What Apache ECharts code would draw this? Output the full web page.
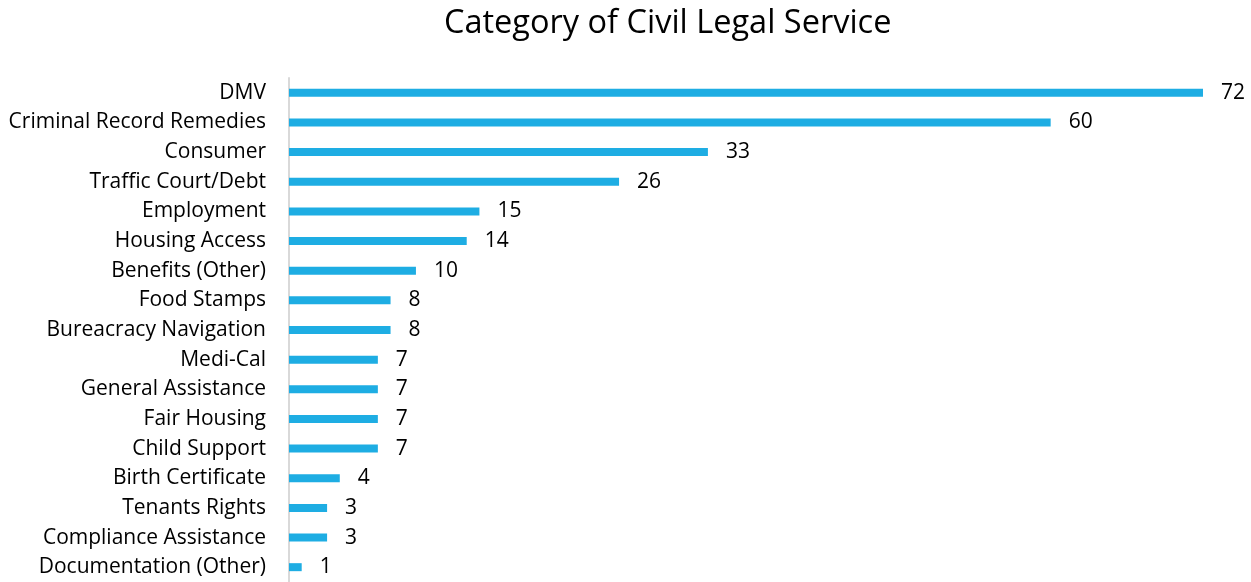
<!DOCTYPE html>
<html>
<head>
<meta charset="utf-8">
<script src="https://cdn.jsdelivr.net/npm/echarts@6/dist/echarts.min.js"></script>
<style>
  html, body { margin: 0; padding: 0; background: #fff; }
  #chart { width: 1251px; height: 582px; }
</style>
</head>
<body>
<div id="chart"></div>
<script>
// Categories listed top to bottom
const categories = [
  'DMV', 'Criminal Record Remedies', 'Consumer', 'Traffic Court/Debt',
  'Employment', 'Housing Access', 'Benefits (Other)', 'Food Stamps',
  'Bureacracy Navigation', 'Medi-Cal', 'General Assistance', 'Fair Housing',
  'Child Support', 'Birth Certificate', 'Tenants Rights',
  'Compliance Assistance', 'Documentation (Other)'
];
const counts = [72, 60, 33, 26, 15, 14, 10, 8, 8, 7, 7, 7, 7, 4, 3, 3, 1];

const font = '"Open Sans", "Noto Sans", sans-serif';
const chart = echarts.init(document.getElementById('chart'));
chart.setOption({
  animation: false,
  title: {
    text: 'Category of Civil Legal Service',
    left: 439,
    top: 2,
    textStyle: { fontFamily: font, fontSize: 32.5, fontWeight: 'normal', color: '#000' }
  },
  grid: { left: 289, right: 48, top: 78, bottom: -2 },
  xAxis: {
    type: 'value',
    min: 0,
    max: 72,
    show: false
  },
  yAxis: {
    type: 'category',
    inverse: true,
    data: categories,
    axisLine: { show: true, lineStyle: { color: '#d9d9d9', width: 2 } },
    axisTick: { show: false },
    axisLabel: {
      margin: 23,
      fontFamily: font,
      fontSize: 21,
      color: '#000'
    }
  },
  series: [{
    type: 'bar',
    data: counts,
    barWidth: 8,
    itemStyle: { color: '#1eade3' },
    label: {
      show: true,
      position: 'right',
      distance: 18,
      fontFamily: font,
      fontSize: 21,
      color: '#000'
    }
  }]
});
</script>
</body>
</html>
